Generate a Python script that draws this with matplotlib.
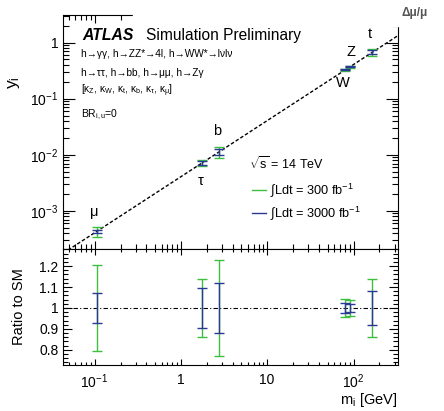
import numpy as np
import matplotlib
matplotlib.use("Agg")
import matplotlib.pyplot as plt
from matplotlib.lines import Line2D
from matplotlib.patches import Rectangle
from matplotlib.ticker import LogLocator, MultipleLocator, NullFormatter

plt.rcParams['font.family'] = ['Liberation Sans', 'DejaVu Sans']
plt.rcParams['mathtext.fontset'] = 'custom'
plt.rcParams['mathtext.rm'] = 'Liberation Sans'
plt.rcParams['mathtext.it'] = 'Liberation Sans:italic'
plt.rcParams['mathtext.bf'] = 'Liberation Sans:bold'
plt.rcParams['mathtext.default'] = 'regular'

# data
particles = ['μ', 'τ', 'b', 'W', 'Z', 't']
mass = [0.1057, 1.777, 2.75, 80.4, 91.2, 165.0]
yukawa = [4.3e-4, 7.2e-3, 1.12e-2, 0.327, 0.371, 0.67]
ratio = [1.0, 1.0, 1.0, 1.0, 1.0, 1.0]
err_300 = [0.205, 0.14, 0.227, 0.042, 0.038, 0.14]
err_3000 = [0.073, 0.097, 0.12, 0.024, 0.02, 0.083]

sm_mass = [0.0435, 325.0]
sm_yukawa = [1.77e-4, 1.32]

xticks = [0.1, 1, 10, 100]
xtick_labels = ['$10^{-1}$', '1', '10', '$10^{2}$']
yticks_top = [1, 0.1, 0.01, 0.001]
ytick_labels_top = ['1', '$10^{-1}$', '$10^{-2}$', '$10^{-3}$']
yticks_bot = [0.8, 0.9, 1.0, 1.1, 1.2]
ytick_labels_bot = ['0.8', '0.9', '1', '1.1', '1.2']

green = '#3fbf3f'
blue = '#2b3996'

# label offsets in pixels from each point
label_offsets = [(-2, 19), (-2, -18), (-2, 21), (-3, -13), (1, 15), (-2, 18)]

fig = plt.figure(figsize=(4.44, 4.11), dpi=100)
ax = fig.add_axes([0.1426, 0.3934, 0.7531, 0.5701])
axr = fig.add_axes([0.1426, 0.1131, 0.7531, 0.2803])

xlim = (0.0435, 325)

# top panel
ax.plot(sm_mass, sm_yukawa, color='black', lw=1.0, ls=(0, (2.5, 1.5)))
yk = np.array(yukawa)
ax.errorbar(mass, yukawa, yerr=yk * np.array(err_300), fmt='none',
            ecolor=green, elinewidth=1.0, capsize=3.6, capthick=1.0)
ax.errorbar(mass, yukawa, yerr=yk * np.array(err_3000), fmt='none',
            ecolor=blue, elinewidth=1.0, capsize=3.6, capthick=1.0)
for name, m, y, off in zip(particles, mass, yukawa, label_offsets):
    ax.annotate(name, (m, y), xytext=off, textcoords='offset pixels',
                ha='center', va='center', fontsize=10.5)

ax.set_xscale('log')
ax.set_yscale('log')
ax.set_xlim(*xlim)
ax.set_ylim(2.07e-4, 3.1)
ax.set_xticks(xticks)
ax.set_xticklabels([])
ax.xaxis.set_minor_locator(LogLocator(base=10, subs=np.arange(2, 10)))
ax.xaxis.set_minor_formatter(NullFormatter())
ax.set_yticks(yticks_top)
ax.set_yticklabels(ytick_labels_top)
ax.yaxis.set_minor_locator(LogLocator(base=10, subs=np.arange(2, 10)))
ax.yaxis.set_minor_formatter(NullFormatter())
ax.tick_params(axis='both', which='both', direction='in', top=True, right=True, labelsize=10)
ax.tick_params(axis='y', which='major', length=8.5, width=0.8)
ax.tick_params(axis='y', which='minor', length=4.3, width=0.8)
ax.tick_params(axis='x', which='major', length=6, width=0.8)
ax.tick_params(axis='x', which='minor', length=3.3, width=0.8)
ax.set_ylabel('$y_i$', fontsize=12.5)
ax.yaxis.set_label_coords(-0.125, 0.71)

# texts
ax.text(0.057, 0.895, 'ATLAS', transform=ax.transAxes, fontsize=11.3,
        fontweight='bold', fontstyle='italic', va='baseline')
ax.text(0.248, 0.895, 'Simulation Preliminary', transform=ax.transAxes,
        fontsize=11.2, va='baseline')
ax.text(0.054, 0.833, 'h→γγ, h→ZZ*→4l, h→WW*→lνlν', transform=ax.transAxes,
        fontsize=7.3, va='center')
ax.text(0.054, 0.752, 'h→ττ, h→bb, h→μμ, h→Zγ', transform=ax.transAxes,
        fontsize=7.3, va='center')
ax.text(0.054, 0.675, r'[$\kappa_Z$, $\kappa_W$, $\kappa_t$, $\kappa_b$, $\kappa_\tau$, $\kappa_\mu$]',
        transform=ax.transAxes, fontsize=7.3, va='center')
ax.text(0.054, 0.573, r'BR$_{i,u}$=0', transform=ax.transAxes, fontsize=7.5, va='center')
ax.text(0.555, 0.368, r'$\sqrt{s}$ = 14 TeV', transform=ax.transAxes, fontsize=9, va='center')

handles = [Line2D([], [], color=green, lw=1.0), Line2D([], [], color=blue, lw=1.0)]
labels = [r'$\int$$L$dt = 300 fb$^{-1}$', r'$\int$$L$dt = 3000 fb$^{-1}$']
ax.legend(handles, labels, loc='upper left', bbox_to_anchor=(0.564, 0.292),
          frameon=False, fontsize=9.2, handlelength=1.1, handletextpad=0.3,
          borderpad=0, borderaxespad=0, labelspacing=0.4)

# ratio panel
axr.axhline(1.0, color='black', lw=0.8, ls=(0, (4, 2, 1, 2)))
axr.errorbar(mass, ratio, yerr=err_300, fmt='none', ecolor=green,
             elinewidth=1.0, capsize=3.6, capthick=1.0)
axr.errorbar(mass, ratio, yerr=err_3000, fmt='none', ecolor=blue,
             elinewidth=1.0, capsize=3.6, capthick=1.0)
axr.set_xscale('log')
axr.set_xlim(*xlim)
axr.set_ylim(0.73, 1.28)
axr.set_xticks(xticks)
axr.set_xticklabels(xtick_labels)
axr.xaxis.set_minor_locator(LogLocator(base=10, subs=np.arange(2, 10)))
axr.xaxis.set_minor_formatter(NullFormatter())
axr.set_yticks(yticks_bot)
axr.set_yticklabels(ytick_labels_bot)
axr.yaxis.set_minor_locator(MultipleLocator(0.02))
axr.tick_params(axis='both', which='both', direction='in', top=True, right=True, labelsize=10)
axr.tick_params(axis='y', which='major', length=6.5, width=0.8)
axr.tick_params(axis='y', which='minor', length=3.5, width=0.8)
axr.tick_params(axis='x', which='major', length=4, width=0.8, pad=6)
axr.tick_params(axis='x', which='minor', length=2.2, width=0.8)
axr.set_ylabel('Ratio to SM', fontsize=10.5)
axr.yaxis.set_label_coords(-0.113, 0.5)
axr.set_xlabel('$m_i$ [GeV]', fontsize=10.5, ha='right')
axr.xaxis.set_label_coords(1.0, -0.23)

for a in (ax, axr):
    for s in a.spines.values():
        s.set_linewidth(0.8)

# covered strip at the top right with a cut off label
fig.add_artist(Rectangle((133 / 444, 1 - 26.5 / 411), 1, 26.5 / 411,
                         transform=fig.transFigure, color='white', zorder=10))
fig.text(415 / 444, 1 - 13 / 411, 'Δμ/μ', fontsize=8.5, fontweight='bold',
         color='#555555', ha='center', va='center', zorder=11)

fig.savefig('out.png', dpi=100)
